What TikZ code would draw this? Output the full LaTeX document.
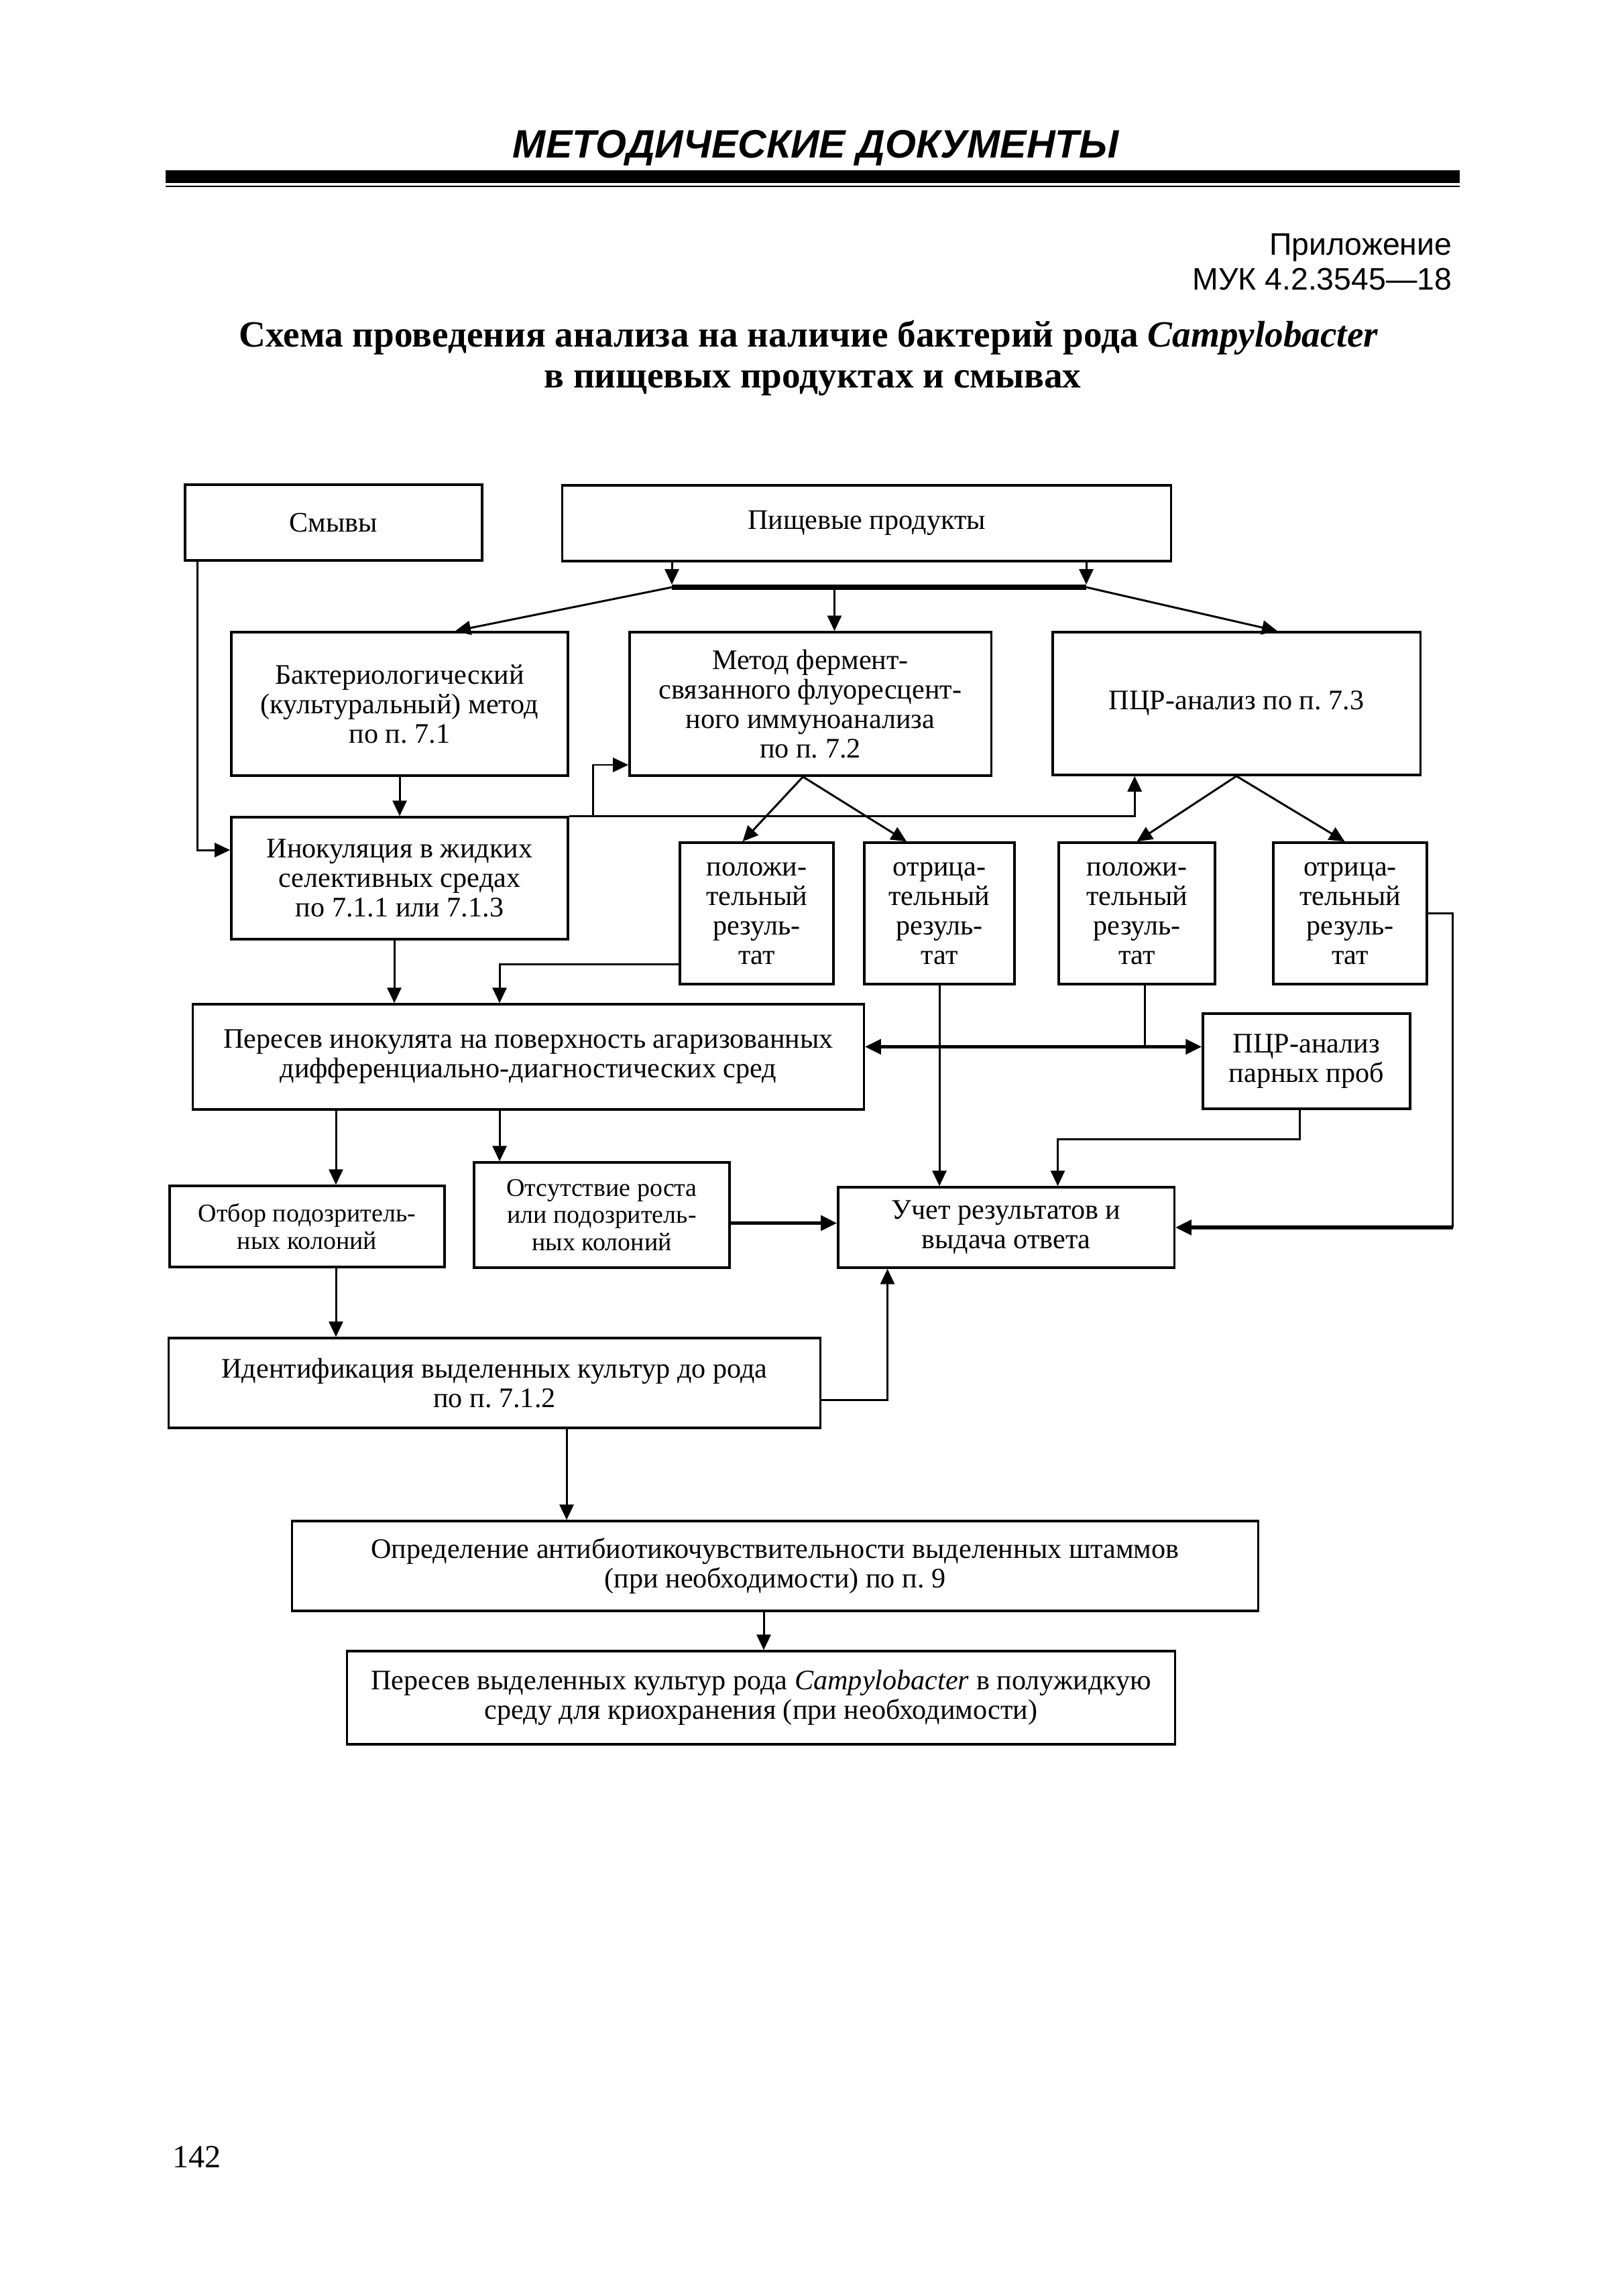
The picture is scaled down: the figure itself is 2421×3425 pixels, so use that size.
\documentclass[tikz,border=0pt]{standalone}
\usepackage{fontspec}
\setmainfont{Liberation Serif}
\newfontfamily\hdrsans{Liberation Sans}
\usetikzlibrary{arrows.meta,calc}
\newcommand\bodyf{\fontsize{12}{12.5}\selectfont}
\newcommand\smallf{\fontsize{10.8}{11.6}\selectfont}
\frenchspacing
\begin{document}
\begin{tikzpicture}[x=0.01cm,y=-0.01cm,
  box/.style={draw, line width=0.95pt, inner sep=1pt, align=center, font=\bodyf},
  arr/.style={line width=0.85pt, -{Triangle[length=0.23cm,width=0.21cm]}},
  tarr/.style={line width=1.5pt, -{Triangle[length=0.24cm,width=0.22cm]}},
  darr/.style={line width=1.5pt, {Triangle[length=0.24cm,width=0.22cm]}-{Triangle[length=0.24cm,width=0.22cm]}},
  ln/.style={line width=0.85pt}]
\useasboundingbox[fill=white] (0,0) rectangle (2421,3425);

% page header
\node[anchor=base, font=\hdrsans\bfseries\itshape\fontsize{16.8}{18}\selectfont, inner sep=0] (hdr) at (1217,236) {МЕТОДИЧЕСКИЕ ДОКУМЕНТЫ};
\fill (247,254) rectangle (2177,273);
\fill (247,277) rectangle (2177,279.5);
\node[anchor=base east, font=\hdrsans\fontsize{13.2}{14}\selectfont, inner sep=0] (app1) at (2166,381) {Приложение};
\node[anchor=base east, font=\hdrsans\fontsize{13.2}{14}\selectfont, inner sep=0] (app2) at (2166,433) {МУК 4.2.3545—18};
\node[anchor=base, font=\bfseries\fontsize{15.7}{17}\selectfont, inner sep=0] (t1) at (1206,518) {Схема проведения анализа на наличие бактерий рода \textit{Campylobacter}};
\node[anchor=base, font=\bfseries\fontsize{15.7}{17}\selectfont, inner sep=0] (t2) at (1212,579) {в пищевых продуктах и смывах};
\node[anchor=base west, font=\fontsize{13.7}{15}\selectfont, inner sep=0] (pg) at (257,3233) {142};

% boxes
\node[box, minimum width=4.43cm, minimum height=1.13cm] (smyvy) at (497.5,779.5) {Смывы};
\node[box, minimum width=9.07cm, minimum height=1.13cm] (pishch) at (1292.5,780.5) {Пищевые продукты};
\node[box, minimum width=5.02cm, minimum height=2.14cm] (bakt) at (596,1050) {Бактериологический\\(культуральный) метод\\по п. 7.1};
\node[box, minimum width=5.39cm, minimum height=2.14cm] (metod) at (1208.5,1050) {Метод фермент-\\связанного флуоресцент-\\ного иммуноанализа\\по п. 7.2};
\node[box, minimum width=5.48cm, minimum height=2.13cm] (pcr) at (1844,1049.5) {ПЦР-анализ по п. 7.3};
\node[box, minimum width=5.02cm, minimum height=1.82cm] (inok) at (596,1310) {Инокуляция в жидких\\селективных средах\\по 7.1.1 или 7.1.3};
\node[box, minimum width=2.29cm, minimum height=2.11cm] (pos1) at (1128.5,1362.5) {положи-\\тельный\\резуль-\\тат};
\node[box, minimum width=2.24cm, minimum height=2.11cm] (neg1) at (1401,1362.5) {отрица-\\тельный\\резуль-\\тат};
\node[box, minimum width=2.33cm, minimum height=2.11cm] (pos2) at (1695.5,1362.5) {положи-\\тельный\\резуль-\\тат};
\node[box, minimum width=2.29cm, minimum height=2.11cm] (neg2) at (2013.5,1362.5) {отрица-\\тельный\\резуль-\\тат};
\node[box, minimum width=10cm, minimum height=1.57cm] (peresev) at (788,1576.5) {Пересев инокулята на поверхность агаризованных\\дифференциально-диагностических сред};
\node[box, minimum width=3.09cm, minimum height=1.42cm] (pcrpar) at (1948.5,1583) {ПЦР-анализ\\парных проб};
\node[box, font=\smallf, minimum width=4.10cm, minimum height=1.21cm] (otbor) at (458,1829.5) {Отбор подозритель-\\ных колоний};
\node[box, font=\smallf, minimum width=3.81cm, minimum height=1.57cm] (otsut) at (897.5,1812.5) {Отсутствие роста\\или подозритель-\\ных колоний};
\node[box, minimum width=5.01cm, minimum height=1.20cm] (uchet) at (1500.5,1831) {Учет результатов и\\выдача ответа};
\node[box, minimum width=9.71cm, minimum height=1.34cm] (ident) at (737.5,2063) {Идентификация выделенных культур до рода\\по п. 7.1.2};
\node[box, minimum width=14.40cm, minimum height=1.34cm] (opred) at (1156,2336) {Определение антибиотикочувствительности выделенных штаммов\\(при необходимости) по п. 9};
\node[box, minimum width=12.34cm, minimum height=1.39cm] (last) at (1135,2532.5) {Пересев выделенных культур рода \textit{Campylobacter} в полужидкую\\среду для криохранения (при необходимости)};

% connectors
\coordinate (barL) at (1002,876);
\coordinate (barR) at (1620,876);
\draw[arr] (pishch.south -| barL) -- ($(barL)+(0,-4)$);
\draw[arr] (pishch.south -| barR) -- ($(barR)+(0,-4)$);
\draw[line width=2.4pt] (barL) -- (barR);
\draw[arr] (barL) -- ($(bakt.north)+(83,0)$);
\coordinate (mtop) at ($(metod.north)+(36,0)$);
\draw[arr] (mtop |- barL) -- (mtop);
\draw[arr] (barR) -- ($(pcr.north)+(61,0)$);

\draw[arr] (bakt.south) -- (inok.north);
\draw[arr] ($(smyvy.south west)+(20,0)$) |- ($(inok.west)+(0,-42)$);
\draw[arr] (inok.north east) -| ($(pcr.south west)+(124,0)$);
\coordinate (jn) at ($(inok.north east)+(36,0)$);
\draw[arr] (jn) |- ($(metod.west)+(0,91)$);

\coordinate (mapex) at ($(metod.south)+(-11,0)$);
\draw[arr] (mapex) -- ($(pos1.north)+(-21,0)$);
\draw[arr] (mapex) -- ($(neg1.north)+(-49,0)$);
\draw[arr] (pcr.south) -- (pos2.north);
\draw[arr] (pcr.south) -- ($(neg2.north)+(-8,0)$);

\coordinate (is) at ($(inok.south)+(-8,0)$);
\draw[arr] (is) -- (is |- peresev.north);
\draw[arr] ($(pos1.west)+(0,76)$) -| ($(peresev.north west)+(459,0)$);
\draw[arr] (neg1.south) -- (neg1.south |- uchet.north);

\coordinate (dl) at ($(peresev.east)+(0,-15)$);
\draw[darr] (dl) -- (dl -| pcrpar.west);
\coordinate (p2s) at ($(pos2.south)+(12,0)$);
\draw[ln] (p2s) -- (p2s |- dl);
\draw[arr] ($(pcrpar.south)+(-10,0)$) -- ++(0,44) -| ($(uchet.north)+(77,0)$);
\coordinate (rc) at ($(neg2.east)+(37,0)$);
\draw[ln] (neg2.east) -- (rc) -- (rc |- uchet.east);
\draw[tarr] (rc |- uchet.east) -- (uchet.east);

\coordinate (ob) at ($(otbor.north)+(43,0)$);
\draw[arr] (ob |- peresev.south) -- (ob);
\coordinate (os) at ($(peresev.south west)+(459,0)$);
\draw[arr] (os) -- (os |- otsut.north);
\coordinate (ou) at ($(otsut.east)+(0,12)$);
\draw[tarr] (ou) -- (ou -| uchet.west);
\draw[arr] (ob |- otbor.south) -- (ob |- ident.north);
\draw[arr] ($(ident.east)+(0,25)$) -| ($(uchet.south)+(-177,0)$);
\coordinate (io) at ($(ident.south west)+(595,0)$);
\draw[arr] (io) -- (io |- opred.north);
\coordinate (ol) at ($(opred.south)+(-17,0)$);
\draw[arr] (ol) -- (ol |- last.north);
\end{tikzpicture}
\end{document}
